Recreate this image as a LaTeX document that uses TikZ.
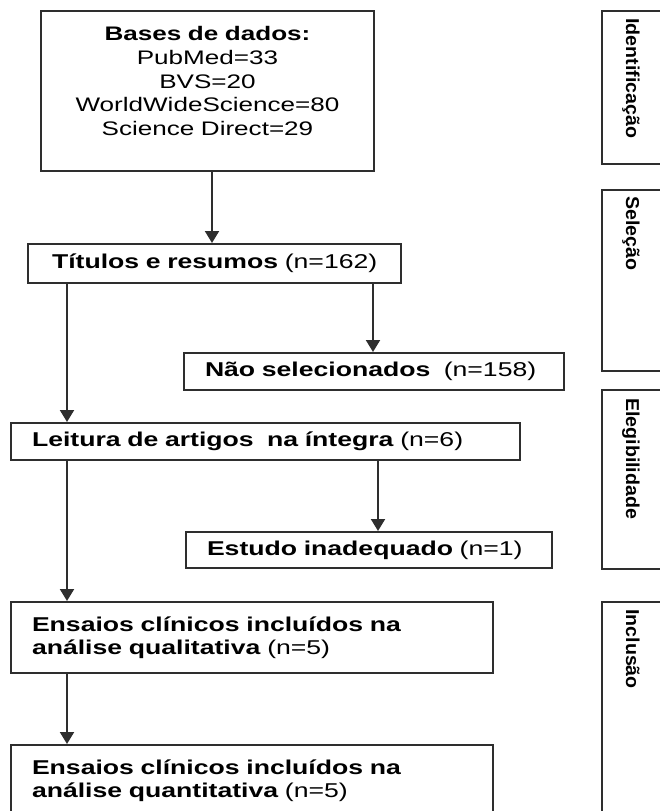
\documentclass[tikz,border=0pt]{standalone}
\usepackage{fontspec}
\setmainfont{Liberation Sans}[FakeStretch=1.33]
\newfontfamily\sidefont{Liberation Sans}[FakeStretch=1.05]
\usetikzlibrary{arrows.meta}
\definecolor{linec}{HTML}{2E2E2E}
\begin{document}
\begin{tikzpicture}[x=0.75pt,y=-0.75pt,
  box/.style={draw=linec, line width=1.5pt, anchor=north west, inner xsep=15.75pt, inner ysep=0pt,
    align=left, text=black, font=\fontsize{15pt}{17.25pt}\selectfont},
  arr/.style={draw=linec, line width=1.5pt, -{Triangle[width=10.5pt,length=9pt]}},
  sidebox/.style={draw=linec, line width=1.5pt, anchor=north west, inner sep=0pt, minimum width=59.25pt},
  lab/.style={rotate=-90, anchor=base west, inner sep=0pt, text=black,
    font=\sidefont\bfseries\fontsize{14pt}{16pt}\selectfont}]
\clip (0,0) rectangle (660,811);
% main boxes
\node[box, align=center, inner xsep=3.75pt, text width=242.25pt, minimum height=120pt,
  text height=11pt, text depth=86.5pt, font=\fontsize{14.7pt}{17.8pt}\selectfont] (top) at (40,10)
  {\textbf{Bases de dados:}\\PubMed=33\\BVS=20\\WorldWideScience=80\\Science Direct=29};
\node[box, inner xsep=18pt, text width=243.75pt, minimum height=29.25pt] (tit) at (27,243)
  {\mbox{\textbf{Títulos e resumos} (n=162)}};
\node[box, text width=253.5pt, minimum height=27.75pt] (nao) at (183,352)
  {\mbox{\textbf{Não selecionados}\ \ (n=158)}};
\node[box, text width=350.25pt, minimum height=27.75pt] (leit) at (10,422)
  {\mbox{\textbf{Leitura de artigos\ \ na íntegra}\ (n=6)}};
\node[box, text width=243pt, minimum height=27pt] (est) at (185,531)
  {\mbox{\textbf{Estudo inadequado} (n=1)}};
\node[box, text width=330pt, minimum height=53.25pt] (ens1) at (10,601)
  {\textbf{Ensaios clínicos incluídos na}\\\textbf{análise qualitativa} (n=5)};
\node[box, text width=330pt, minimum height=53.25pt] (ens2) at (10,744)
  {\textbf{Ensaios clínicos incluídos na}\\\textbf{análise quantitativa} (n=5)};
% side boxes
\node[sidebox, minimum height=114.75pt] (s1) at (601,10) {};
\node[sidebox, minimum height=135.75pt] (s2) at (601,189) {};
\node[sidebox, minimum height=134.25pt] (s3) at (601,389) {};
\node[sidebox, minimum height=171.75pt] (s4) at (601,601) {};
\node[lab] (l1) at (626,18) {Identificação};
\node[lab] (l2) at (626,196) {Seleção};
\node[lab] (l3) at (626,398) {Elegibilidade};
\node[lab] (l4) at (626,609) {Inclusão};
% connector x positions
\coordinate (xa) at (212,0);
\coordinate (xb) at (373,0);
\coordinate (xc) at (67,0);
\coordinate (xd) at (378,0);
% connectors
\draw[arr] (top.south -| xa) -- (tit.north -| xa);
\draw[arr] (tit.south -| xb) -- (nao.north -| xb);
\draw[arr] (tit.south -| xc) -- (leit.north -| xc);
\draw[arr] (leit.south -| xd) -- (est.north -| xd);
\draw[arr] (leit.south -| xc) -- (ens1.north -| xc);
\draw[arr] (ens1.south -| xc) -- (ens2.north -| xc);
\end{tikzpicture}
\end{document}
